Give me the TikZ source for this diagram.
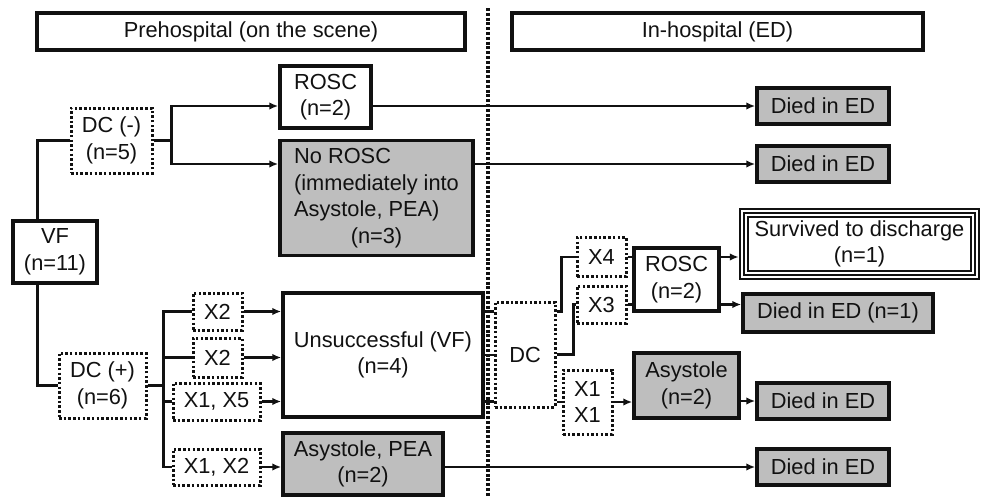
\documentclass[tikz,border=0pt]{standalone}
\usepackage{fontspec}
\setmainfont{Liberation Sans}
\usepackage{tikz}
\usetikzlibrary{arrows.meta, calc}
\usepackage{xcolor}
\definecolor{cbox}{HTML}{BEBEBE}
\definecolor{cline}{HTML}{111111}

\begin{document}
\begin{tikzpicture}[x=1pt, y=-1pt,
  font=\fontsize{21.8}{26.5}\selectfont,
  every node/.style={inner sep=0pt, align=center, text=cline},
  box/.style args={#1x#2}{draw=cline, line width=3.5pt, fill=white, minimum width=#1, minimum height=#2},
  gbox/.style args={#1x#2}{box={#1x#2}, fill=cbox},
  dbox/.style args={#1x#2}{box={#1x#2}, line width=3pt, dash pattern=on 2.5pt off 2.2pt},
  tbox/.style args={#1x#2}{box={#1x#2}, line width=10.5pt,
    postaction={draw=white, line width=6pt}, postaction={draw=cline, line width=2.2pt}},
  conn/.style={draw=cline, line width=2.4pt},
  arr/.style={conn, -{Latex[length=9pt,width=7.5pt]}},
  divider/.style={draw=cline, line width=3.5pt, dash pattern=on 3pt off 1.8pt}]
  \useasboundingbox (0,0) rectangle (982,496);

  % phase headers and divider
  \node[box={428x37}] (pre) at (251,31.5) {Prehospital (on the scene)};
  \node[box={411x37}] (inh) at (717.5,31.5) {In-hospital (ED)};
  \draw[divider] (488,8) -- (488,496);

  % prehospital
  \node[box={84x62}] (vf) at (55,252) {VF\\(n=11)};
  \node[dbox={81x65}] (dcm) at (111.5,140.5) {DC (-)\\(n=5)};
  \node[dbox={87x65}] (dcp) at (102.5,385.5) {DC (+)\\(n=6)};
  \node[box={91x62}] (rosc1) at (325.5,97) {ROSC\\(n=2)};
  \node[gbox={193x115}] (norosc) at (376.5,198) {\begin{tabular}{@{}l@{}}No ROSC\\(immediately into\\Asystole, PEA)\\\multicolumn{1}{@{}c@{}}{(n=3)}\end{tabular}};
  \node[dbox={49x37}] (xa) at (217.5,311.5) {X2};
  \node[dbox={49x39}] (xb) at (217.5,357.5) {X2};
  \node[dbox={87x37}] (xc) at (216.5,401.5) {X1, X5};
  \node[dbox={87x36}] (xd) at (216.5,467) {X1, X2};
  \node[box={200x124}] (unsucc) at (383,355) {Unsuccessful (VF)\\(n=4)};
  \node[gbox={160x62}] (asyp) at (363,464) {Asystole, PEA\\(n=2)};

  % in-hospital
  \node[dbox={60x105}] (dc) at (525,354.5) {DC};
  \node[dbox={49x39}] (x4) at (601.5,257) {X4};
  \node[dbox={49x37}] (x3) at (601.5,304.5) {X3};
  \node[dbox={49x64}] (x11) at (587.5,402) {X1\\X1};
  \node[box={85x63}] (rosc2) at (676.5,279.5) {ROSC\\(n=2)};
  \node[gbox={105x65}] (asy2) at (686.5,385.5) {Asystole\\(n=2)};
  \node[tbox={231x62}] (surv) at (859.5,244) {Survived to discharge\\(n=1)};
  \node[gbox={190x38}] (died5) at (838,313) {Died in ED (n=1)};
  \foreach \n/\y in {died1/106, died2/164, died3/401, died4/467}
    \node[gbox={132x36}] (\n) at (823,\y) {Died in ED};

  \coordinate (s1) at ($(dcm.east)+(18,0)$);
  \coordinate (s2) at ($(dcp.east)+(16,0)$);

  \draw[conn] ($(vf.north west)!0.3!(vf.north east)$) |- (dcm.west);
  \draw[conn] ($(vf.south west)!0.3!(vf.south east)$) |- (dcp.west);
  \draw[conn] (dcm.east) -- (s1);
  \draw[arr] (s1) |- (rosc1.west |- died1.west);
  \draw[arr] (s1) |- (norosc.west |- died2.west);
  \draw[arr] (rosc1.east |- died1.west) -- (died1.west);
  \draw[arr] (norosc.east |- died2.west) -- (died2.west);
  \draw[conn] (dcp.east) -- (s2);
  \foreach \n in {xa,xb,xc,xd}
    \draw[conn] (s2) |- (\n.west);
  \foreach \n in {xa,xb,xc}
    \draw[arr] (\n.east) -- (\n.east -| unsucc.west);
  \draw[arr] (xd.east) -- (xd.east -| asyp.west);
  \draw[arr] (asyp.east |- died4.west) -- (died4.west);
  \foreach \n in {xa,unsucc,xc}
    \draw[conn] (unsucc.east |- \n.east) -- (dc.west |- \n.east);

  \draw[conn] (dc.east |- xa.east) -- ++(5,0) |- (x4.west);
  \draw[conn] (dc.east) -- ++(17,0) |- (x3.west);
  \draw[conn] (dc.east |- x11.west) -- (x11.west);
  \draw[conn] (x4.east) -- (x4.east -| rosc2.west);
  \draw[conn] (x3.east) -- (x3.east -| rosc2.west);
  \draw[arr] (x4.east -| rosc2.east) -- (x4.east -| surv.west);
  \draw[arr] (x3.east -| rosc2.east) -- (x3.east -| died5.west);
  \draw[arr] (x11.east) -- (x11.east -| asy2.west);
  \draw[arr] (asy2.east |- died3.west) -- (died3.west);
\end{tikzpicture}
\end{document}
